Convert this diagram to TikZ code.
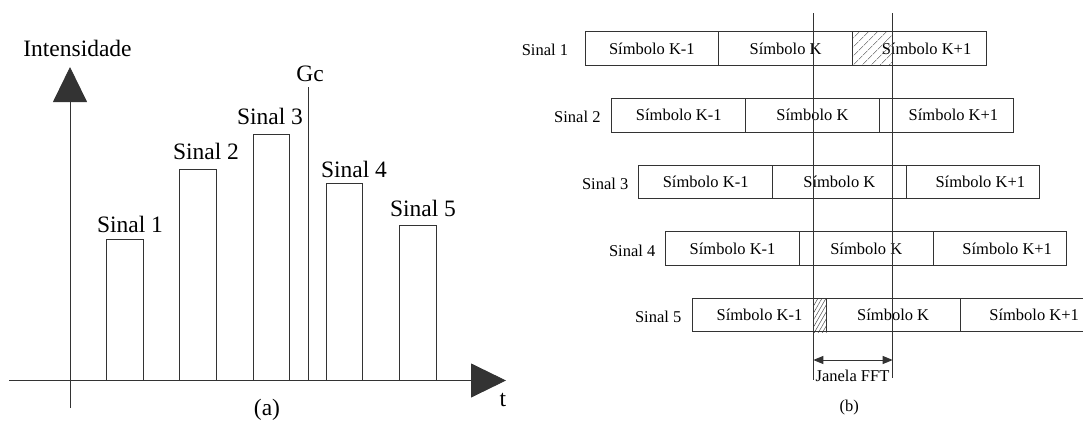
\documentclass[tikz,border=0pt]{standalone}
\usepackage{fontspec}
\setmainfont{Liberation Serif}
\usetikzlibrary{arrows.meta,patterns.meta}
\begin{document}
\begin{tikzpicture}[x=1pt,y=-1pt,
  ln/.style={draw=black!80,line width=0.9pt},
  bar/.style={ln,rectangle,minimum width=36.6pt,inner sep=0pt,anchor=south},
  big/.style={font=\fontsize{23.5}{28}\selectfont,inner sep=0pt},
  small/.style={font=\fontsize{16.5}{20}\selectfont,inner sep=0pt},
  seg/.style={ln,rectangle,minimum width=133.7pt,minimum height=33.6pt,inner sep=0pt,font=\fontsize{16.5}{20}\selectfont},
  hatchA/.style={pattern={Lines[angle=45,distance=6.5pt,line width=0.6pt]},pattern color=black!70},
  hatchB/.style={pattern={Lines[angle=60,distance=3.5pt,line width=0.5pt]},pattern color=black!70},
  bigtip/.style={-{Triangle[length=35pt,width=34pt]}},
  smalltip/.style={{Triangle[length=10pt,width=8pt]}-{Triangle[length=10pt,width=8pt]}}
]
\path[use as bounding box] (0,0) rectangle (1083,420);
\clip (0,0) rectangle (1083,420);

% ---------- (a) ----------
\coordinate (ybot) at (70,408);
\coordinate (ytop) at (70,67);
\coordinate (xl) at (9,380.5);
\coordinate (xr) at (506,380.5);
\draw[ln,bigtip] (ybot) -- (ytop);
\draw[ln,bigtip] (xl) -- (xr);
\node[big] (ylab) at (77.5,48) {Intensidade};
\node[big] (tlab) at (503,400) {t};
\node[big] (alab) at (267,410) {(a)};

\node[bar,minimum height=140.5pt] (bar1) at (125,380.5) {};
\node[bar,minimum height=211pt]   (bar2) at (198.2,380.5) {};
\node[bar,minimum height=246pt]   (bar3) at (271.5,380.5) {};
\node[bar,minimum height=196.3pt] (bar4) at (344.5,380.5) {};
\node[bar,minimum height=154.6pt] (bar5) at (418.2,380.5) {};
\node[big] (l1) at (130,224) {Sinal 1};
\node[big] (l2) at (206,151) {Sinal 2};
\node[big] (l3) at (270,116) {Sinal 3};
\node[big] (l4) at (354,169) {Sinal 4};
\node[big] (l5) at (423,208) {Sinal 5};

\coordinate (gct) at (308,87);
\coordinate (gcb) at (308,380.5);
\draw[ln] (gct) -- (gcb);
\node[big] (gc) at (310,74) {Gc};

% ---------- (b) ----------
% hatched regions
\fill[hatchA] (853.3,31.7) rectangle (892.7,65.3);
\fill[hatchB] (813.3,298.3) rectangle (826.7,332);

\foreach \i in {1,...,5} {
  \pgfmathsetmacro\xo{585+26.9*(\i-1)}
  \pgfmathsetmacro\yc{48.5+66.65*(\i-1)}
  \node[seg] (s\i a) at (\xo+66.85,\yc) {Símbolo K-1};
  \node[seg] (s\i b) at (\xo+200.55,\yc) {Símbolo K};
  \node[seg] (s\i c) at (\xo+334.25,\yc) {};
  \node[small] (s\i ct) at (\xo+341.5,\yc) {Símbolo K+1};
}
\node[small,anchor=east] (r1) at (568.3,50) {Sinal 1};
\node[small,anchor=east] (r2) at (600.7,116.5) {Sinal 2};
\node[small,anchor=east] (r3) at (628.5,183.5) {Sinal 3};
\node[small,anchor=east] (r4) at (655.5,251) {Sinal 4};
\node[small,anchor=east] (r5) at (681.5,317) {Sinal 5};

\coordinate (w1t) at (813.3,13.3);
\coordinate (w1b) at (813.3,380);
\coordinate (w2t) at (892.7,13.3);
\coordinate (w2b) at (892.7,378);
\draw[ln] (w1t) -- (w1b);
\draw[ln] (w2t) -- (w2b);
\coordinate (a1) at (813.3,360);
\coordinate (a2) at (892.7,360);
\draw[ln,smalltip] (a1) -- (a2);
\node[small] (jan) at (852.5,376) {Janela FFT};
\node[small] (blab) at (849.3,408) {(b)};
\end{tikzpicture}
\end{document}
